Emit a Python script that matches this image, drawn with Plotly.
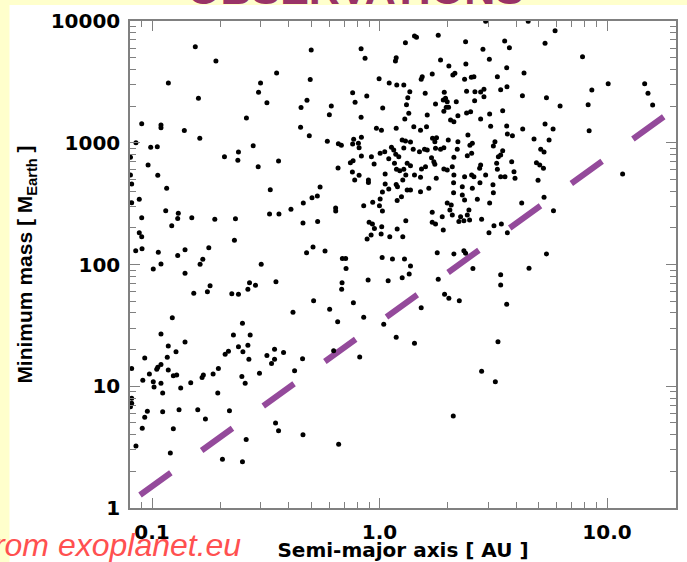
import plotly.graph_objects as go

# ---- data: semi-major axis [AU] and minimum mass [M_Earth] ----
# close-in / low-a planets (a < ~0.9 AU), upper part
a_inner = [0.155, 0.191, 0.118, 0.160, 0.501, 0.830, 0.864, 0.353, 0.496, 0.300,
           0.294, 0.320, 0.480, 0.452, 0.614, 0.602, 0.260, 0.830, 0.762, 0.879,
           0.781, 0.0901, 0.1095, 0.1095, 0.1387, 0.1622, 0.0850, 0.0987, 0.1055, 0.0804,
           0.0961, 0.106, 0.0804, 0.0814, 0.116, 0.0879, 0.0814, 0.1149, 0.1305, 0.0901,
           0.1297, 0.1496, 0.1221, 0.1888, 0.2327, 0.2082, 0.2399, 0.2384, 0.2785, 0.2929,
           0.360, 0.331, 0.3286, 0.3614, 0.4081, 0.4624, 0.505, 0.533, 0.548, 0.461,
           0.5346, 0.6416, 0.642, 0.4914, 0.4499, 0.5898, 0.6594, 0.6798, 0.762, 0.770,
           0.8326, 0.8076, 0.8134, 0.8326, 0.6574, 0.7447, 0.7654, 0.760, 0.8134, 0.778,
           0.8938, 0.894, 0.9215, 0.947, 0.9694, 0.8522, 0.9003, 0.9309, 0.950, 0.9186,
           0.8821, 0.9337, 0.0848, 0.0904, 0.1066, 0.1297, 0.1397, 0.1777, 0.1672, 0.1627,
           0.1095, 0.2303, 0.0879, 0.0901, 0.302, 0.5102, 0.478, 0.5762, 0.6867, 0.710,
           0.7129, 0.1013]
m_inner = [6150, 4690, 3090, 2320, 5780, 5920, 4940, 3740, 3300, 3090,
           2600, 2130, 2230, 1950, 2000, 1700, 1600, 1620, 2580, 2420,
           2150, 1430, 1400, 1330, 1260, 1090, 1000, 918, 929, 760,
           657, 540, 543, 458, 422, 343, 322, 276, 263, 242,
           239, 242, 208, 235, 238, 768, 840, 718, 946, 636,
           708, 411, 260, 260, 284, 320, 354, 365, 433, 219,
           226, 291, 275, 1143, 1340, 1028, 983, 953, 977, 1068,
           1109, 990, 911, 779, 621, 686, 713, 575, 540, 494,
           494, 471, 768, 669, 1315, 304, 222, 215, 198, 175,
           162, 325, 129.5, 135, 126, 118.5, 132, 137.5, 110.7, 100.5,
           101, 158, 182, 169, 100.5, 139, 125, 129, 112, 112,
           92.5, 92]

# giant planets around and beyond 1 AU
a_outer = [1.30, 1.184, 1.175, 0.996, 1.103, 1.191, 1.279, 1.033, 1.0198, 1.184,
           1.0064, 1.0545, 1.1287, 1.155, 1.179, 1.2155, 1.0982, 1.1636, 1.1874, 1.2279,
           1.279, 1.258, 1.301, 1.3685, 1.279, 1.3234, 1.305, 1.0588, 1.059, 1.0982,
           1.184, 1.1995, 1.2657, 1.030, 1.0064, 0.9994, 1.030, 1.1958, 1.249, 1.3234,
           1.305, 1.0229, 1.0166, 1.1094, 1.1958, 1.2657, 1.027, 1.140, 1.2877,
           1.425, 1.4543, 1.812, 2.39, 2.928, 4.505, 5.912, 3.55, 3.724, 5.342,
           2.849, 1.855, 3.04, 2.397, 2.018, 3.623, 7.805, 1.541, 1.525, 1.705,
           2.1446, 2.1015, 2.6, 2.533, 2.366, 3.297, 4.317, 1.359, 1.3316, 1.588,
           1.926, 1.951, 1.907, 1.985, 1.965, 2.175, 2.414, 2.627, 2.783, 2.878,
           2.619, 2.878, 3.409, 3.634, 4.248, 5.418, 6.22, 8.262, 8.578, 10.12,
           14.64, 15.14, 15.87, 8.346, 11.71, 1.763, 1.314, 1.345, 1.621, 1.2917,
           1.918, 2.012, 2.053, 2.123, 2.211, 2.414, 2.515, 2.783, 3.049, 3.479,
           1.415, 1.6095, 1.5145, 3.08, 3.623, 3.649, 3.839, 4.261, 5.342, 5.794,
           2.447, 1.710, 1.781, 1.751, 2.006, 2.211, 2.497, 2.559, 3.217, 3.166,
           3.479, 4.778, 5.564, 1.4065, 1.499, 1.577, 1.621, 1.763, 1.855, 1.918,
           2.197, 2.123, 2.432, 2.541, 3.33, 3.409, 3.273, 3.811, 5.114, 5.288,
           4.896, 5.063, 5.256, 1.3685, 1.530, 1.593, 1.693, 1.733, 1.751, 1.918,
           1.985, 2.089, 2.755, 2.783, 2.928, 2.6, 2.541, 2.366, 2.123, 1.776,
           1.5145, 1.425, 3.297, 3.561, 3.409, 3.901, 3.941, 4.976, 1.3685, 1.5145,
           1.6476, 2.1165, 2.3115, 2.559, 2.764, 3.153, 2.1165, 2.3115, 2.692, 3.166,
           3.049, 4.218, 5.288, 5.817, 1.705, 1.887, 1.985, 2.067, 2.039, 2.089,
           2.272, 2.349, 2.233, 2.472, 2.432, 2.489, 2.811, 1.705, 1.763, 1.907,
           3.185, 3.433, 3.028, 3.649, 1.794, 2.123, 2.349, 2.39, 5.418, 1.3685,
           2.574, 4.542, 2.366]
m_outer = [6630, 5000, 4690, 3360, 3090, 2980, 2980, 1930, 1266, 1315,
           819, 844, 918, 872, 804, 768, 740, 678, 605, 589,
           605, 1054, 1034, 1015, 906, 678, 543, 554, 458, 417,
           455, 435, 494, 394, 345, 304, 275, 335, 360, 409,
           229, 204, 178, 169, 196, 169, 114, 111, 111,
           7530, 7350, 7630, 6760, 9950, 9950, 8324, 6851, 6036, 6560,
           5855, 4783, 4846, 4435, 4271, 4135, 5091, 3488, 3320, 3671,
           3720, 3602, 3488, 3449, 3320, 3488, 3741, 2625, 2344, 2547,
           2596, 2317, 2244, 2173, 1955, 2173, 2645, 2625, 2610, 2746,
           2215, 2388, 2725, 2884, 2434, 2344, 2004, 2053, 2711, 3053,
           3053, 2547, 2042, 1256, 554, 2081, 2053, 1746, 1691, 1568,
           1813, 1955, 1538, 1489, 1668, 1756, 1799, 1568, 1723, 1834,
           1355, 1355, 1266, 1365, 1373, 1180, 1143, 1298, 1426, 1298,
           1158, 1088, 1100, 1021, 1054, 1021, 953, 990, 1021, 941,
           861, 1074, 1054, 884, 844, 884, 872, 901, 884, 911,
           884, 760, 783, 819, 768, 793, 678, 699, 884, 840,
           686, 657, 617, 648, 609, 636, 754, 699, 666, 609,
           597, 636, 617, 657, 543, 526, 543, 526, 543, 510,
           520, 543, 605, 526, 526, 578, 510, 491, 409, 396,
           422, 469, 435, 422, 469, 452, 389, 372, 343, 389,
           320, 320, 356, 276, 268, 247, 320, 308, 280, 255,
           247, 229, 225, 280, 255, 232, 235, 222, 215, 192,
           208, 215, 182, 182, 125, 122, 129.5, 124, 122, 97.3,
           92.5, 93.2, 339]

# lower-mass planets (Neptunes and super-Earths)
a_low = [0.1397, 0.1526, 0.1752, 0.18, 0.2243, 0.2399, 0.2639, 0.2683, 0.285, 0.3506,
         0.5133, 0.4166, 0.6038, 0.6548, 0.6846, 0.6818, 0.7677, 0.8522, 0.8911, 1.0915,
         1.3506, 1.0438, 1.184, 0.8184, 0.6287, 0.459, 0.4234, 0.3787, 0.3457, 0.3457,
         0.3353, 0.320, 0.2968, 0.2498, 0.228, 0.2399, 0.2509, 0.2639, 0.2701, 0.2666,
         0.2168, 0.2097, 0.1958, 0.1856, 0.1682, 0.166, 0.148, 0.1397, 0.1228, 0.1095,
         0.1179, 0.1167, 0.1275, 0.0929, 0.0974, 0.1049, 0.106, 0.1095, 0.1095, 0.1179,
         0.1241, 0.1284, 0.0814, 0.0911, 0.1013, 0.1021, 0.1114, 0.1337, 0.1946, 0.2483,
         0.2568, 0.219, 0.1717, 0.1589, 0.1315, 0.1114, 0.1241, 0.0954, 0.0929, 0.0906,
         0.0814, 0.0814, 0.0804, 0.085, 0.1204, 0.204, 0.2498, 0.2594, 0.3492, 0.360,
         0.461, 0.6614, 1.258, 1.812, 3.409, 3.409, 3.623, 1.932, 2.018, 2.243,
         1.525, 1.425, 3.317, 2.811, 3.23, 2.11]
m_low = [84.7, 58.1, 59.8, 67.0, 57.6, 57.0, 62.6, 70.9, 67.5, 72.2,
         50.4, 40.5, 42.9, 33.9, 70.9, 62.6, 48.6, 36.8, 74.6, 73.6,
         83.6, 32.3, 25.3, 17.4, 19.6, 16.8, 13.4, 18.9, 20.1, 16.7,
         15.4, 17.9, 12.8, 32.9, 26.4, 21.1, 19.2, 21.7, 26.4, 16.7,
         19.4, 18.3, 14.0, 12.6, 12.4, 11.8, 10.7, 23.1, 36.6, 26.9,
         21.4, 17.3, 19.2, 17.1, 12.6, 13.8, 14.3, 15.1, 10.6, 13.6,
         12.2, 12.4, 14.0, 11.2, 10.9, 9.84, 8.81, 9.66, 8.81, 12.0,
         10.6, 6.30, 5.38, 6.42, 6.42, 6.18, 4.48, 6.22, 5.56, 4.51,
         7.97, 7.24, 6.79, 3.23, 2.83, 2.52, 2.40, 3.66, 4.99, 4.31,
         4.0, 3.34, 78.0, 75.6, 82.5, 67.9, 47.1, 57.0, 52.8, 50.4,
         44.2, 22.5, 23.2, 13.3, 10.9, 5.70]

# dashed reference line
line_a = [0.0886, 18.7]
line_m = [1.28, 1755]

x_tickvals = [0.1, 1.0, 10.0]
x_ticktext = ["0.1", "1.0", "10.0"]
y_tickvals = [1, 10, 100, 1000, 10000]
y_ticktext = ["1", "10", "100", "1000", "10000"]

# ---- figure ----
W, H = 687, 562
L, R, T, B = 130, 11, 21, 54
PW, PH = W - L - R, H - T - B


def px(xp):
    return (xp - L) / PW


def py(yp):
    return (H - B - yp) / PH


axis_grey = "#808080"
tick_font = dict(family="DejaVu Sans", size=20, color="black", weight="bold")

fig = go.Figure()
fig.add_trace(go.Scatter(
    x=line_a, y=line_m, mode="lines",
    line=dict(color="#944A9B", width=6, dash="38px,38px"),
    hoverinfo="skip", showlegend=False))
fig.add_trace(go.Scatter(
    x=a_inner + a_outer + a_low, y=m_inner + m_outer + m_low, mode="markers",
    marker=dict(color="black", size=5, line=dict(width=0)),
    showlegend=False))

common = dict(type="log", showgrid=False, zeroline=False, showline=True,
              linecolor=axis_grey, linewidth=1.5, ticks="inside", ticklen=10,
              tickwidth=1, tickcolor=axis_grey, mirror="allticks",
              tickfont=tick_font, automargin=False,
              minor=dict(ticks="inside", ticklen=6, tickwidth=1,
                         tickcolor=axis_grey, dtick="D1", showgrid=False))

fig.update_xaxes(**common, range=[-1.0967, 1.3033],
                 tickmode="array", tickvals=x_tickvals, ticktext=x_ticktext,
                 ticklabelstandoff=5,
                 title=dict(text="Semi-major axis [ AU ]",
                            font=dict(family="DejaVu Sans", size=20,
                                      color="black", weight="bold"),
                            standoff=0))
fig.update_yaxes(**common, range=[0, 4],
                 tickmode="array", tickvals=y_tickvals, ticktext=y_ticktext,
                 ticklabelstandoff=4,
                 title=dict(text="Minimum mass [ M<sub>Earth</sub> ]",
                            font=dict(family="Liberation Sans", size=21,
                                      color="black", weight="bold"),
                            standoff=12))

# white card over the pale-yellow slide background
fig.add_shape(type="rect", xref="paper", yref="paper",
              x0=px(9.5), x1=px(W + 5), y0=py(H + 5), y1=py(5),
              fillcolor="white", line=dict(width=0), layer="below")

fig.add_annotation(text="OBSERVATIONS", xref="paper", yref="paper",
                   x=px(355), y=py(15), xanchor="center", yanchor="bottom",
                   showarrow=False,
                   font=dict(family="Liberation Sans", size=43,
                             color="#993366", weight="bold"))
fig.add_annotation(text="from exoplanet.eu", xref="paper", yref="paper",
                   x=px(-17), y=py(545), xanchor="left", yanchor="middle",
                   showarrow=False,
                   font=dict(family="Liberation Sans", size=32,
                             color="#FF5050", style="italic"))

fig.update_layout(width=W, height=H,
                  margin=dict(l=L, r=R, t=T, b=B, pad=0, autoexpand=False),
                  paper_bgcolor="#FFFFCC", plot_bgcolor="white",
                  font=dict(family="Liberation Sans", color="black"),
                  showlegend=False)

fig.write_html(
    "out.html",
    config={"displayModeBar": False},
    post_script="document.body.style.margin='0';"
                "document.body.style.padding='0';"
                "document.body.style.overflow='hidden';")
